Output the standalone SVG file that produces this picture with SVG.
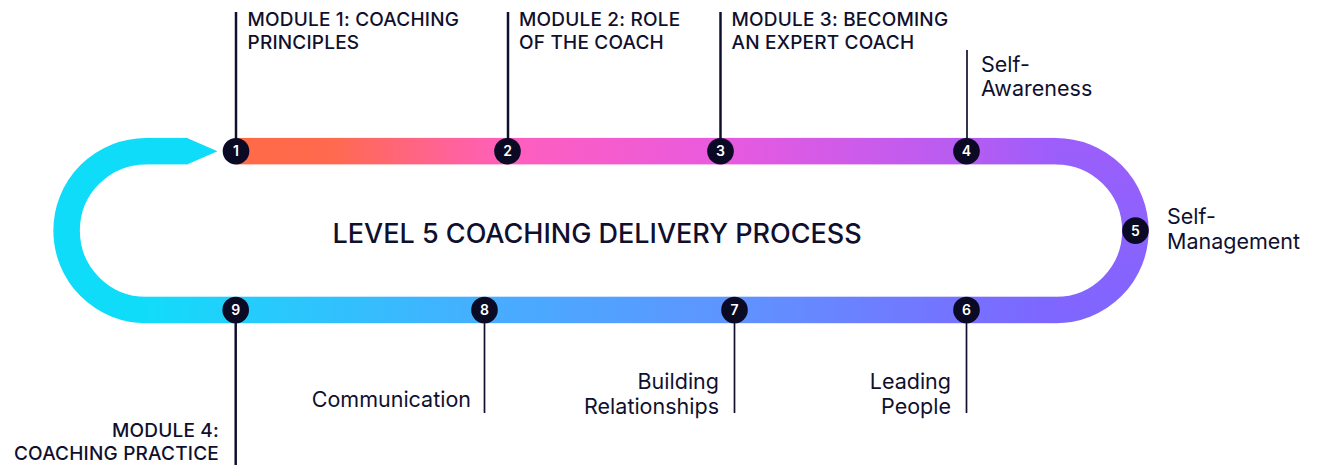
<svg xmlns="http://www.w3.org/2000/svg" width="1317" height="465" viewBox="0 0 1317 465">
<defs>
<style>
.mod{font-family:Inter,"Liberation Sans",sans-serif;font-weight:500;font-size:19px;letter-spacing:0.2px;fill:#10102e}
.skill{font-family:Inter,"Liberation Sans",sans-serif;font-weight:400;font-size:21.5px;fill:#10102e}
.title{font-family:Inter,"Liberation Sans",sans-serif;font-weight:500;font-size:27px;fill:#10102e}
.num{font-family:Inter,"Liberation Sans",sans-serif;font-weight:600;font-size:14px;fill:#ffffff;text-anchor:middle}
.dot{fill:#0a0a24}
.ml{stroke:#10102e;stroke-width:2.5;fill:none}
.sl{stroke:#10102e;stroke-width:1.7;fill:none}
.end{text-anchor:end}
</style>
<linearGradient id="gTop" gradientUnits="userSpaceOnUse" x1="236" y1="0" x2="1056" y2="0">
<stop offset="0" stop-color="#ff6a47"/>
<stop offset="0.12" stop-color="#ff6a50"/>
<stop offset="0.33" stop-color="#ff5fbd"/>
<stop offset="0.59" stop-color="#e95adf"/>
<stop offset="0.89" stop-color="#b65cf2"/>
<stop offset="1" stop-color="#9c5efb"/>
</linearGradient>
<linearGradient id="gRight" gradientUnits="userSpaceOnUse" x1="0" y1="138" x2="0" y2="323">
<stop offset="0" stop-color="#9c5efb"/>
<stop offset="1" stop-color="#7e66ff"/>
</linearGradient>
<linearGradient id="gBot" gradientUnits="userSpaceOnUse" x1="146" y1="0" x2="1056" y2="0">
<stop offset="0" stop-color="#12dcf9"/>
<stop offset="0.1" stop-color="#22cefc"/>
<stop offset="0.37" stop-color="#46aeff"/>
<stop offset="0.65" stop-color="#5f93ff"/>
<stop offset="0.9" stop-color="#7671ff"/>
<stop offset="1" stop-color="#7e66ff"/>
</linearGradient>
</defs>

<g id="track">
<path d="M146,151.2 A79.4,79.4 0 0 0 146,310" stroke="#0edcf9" stroke-width="26.5" fill="none"/>
<rect x="146" y="137.9" width="41.5" height="26.5" fill="#0edcf9"/>
<polygon points="187,137.9 217.5,151.2 187,164.4" fill="#0edcf9"/>
<rect x="236" y="137.9" width="820" height="26.5" fill="url(#gTop)"/>
<path d="M1056,151.2 A79.4,79.4 0 0 1 1056,310" stroke="url(#gRight)" stroke-width="26.5" fill="none"/>
<rect x="146" y="296.7" width="910" height="26.5" fill="url(#gBot)"/>
</g>

<g id="connectors">
<line class="ml" x1="236" y1="12" x2="236" y2="151"/>
<line class="ml" x1="508" y1="12" x2="508" y2="151"/>
<line class="ml" x1="720.5" y1="12" x2="720.5" y2="151"/>
<line class="sl" x1="967" y1="50" x2="967" y2="151"/>
<line class="sl" x1="966.5" y1="310" x2="966.5" y2="413"/>
<line class="sl" x1="734.5" y1="310" x2="734.5" y2="413"/>
<line class="sl" x1="484.5" y1="310" x2="484.5" y2="413"/>
<line class="ml" x1="235.7" y1="310" x2="235.7" y2="465"/>
</g>

<text id="title" class="title" x="332.5" y="242.5">LEVEL 5 COACHING DELIVERY PROCESS</text>

<g id="n1"><circle class="dot" cx="236" cy="151.2" r="13.3"/><text class="num" x="236" y="156.2">1</text>
<text class="mod" x="247.5" y="26">MODULE 1: COACHING</text><text class="mod" x="247.5" y="48.5">PRINCIPLES</text></g>
<g id="n2"><circle class="dot" cx="507.5" cy="151.2" r="13.3"/><text class="num" x="507.5" y="156.2">2</text>
<text class="mod" x="519" y="26">MODULE 2: ROLE</text><text class="mod" x="519" y="48.5">OF THE COACH</text></g>
<g id="n3"><circle class="dot" cx="720.5" cy="151.2" r="13.3"/><text class="num" x="720.5" y="156.2">3</text>
<text class="mod" x="731.5" y="26">MODULE 3: BECOMING</text><text class="mod" x="731.5" y="48.5">AN EXPERT COACH</text></g>
<g id="n4"><circle class="dot" cx="966.5" cy="151.2" r="13.3"/><text class="num" x="966.5" y="156.2">4</text>
<text class="skill" x="981" y="72.3">Self-</text><text class="skill" x="981" y="96">Awareness</text></g>
<g id="n5"><circle class="dot" cx="1135.5" cy="230.6" r="13.3"/><text class="num" x="1135.5" y="235.6">5</text>
<text class="skill" x="1167" y="224.3">Self-</text><text class="skill" x="1167" y="249.3">Management</text></g>
<g id="n6"><circle class="dot" cx="966.5" cy="310" r="13.3"/><text class="num" x="966.5" y="315">6</text>
<text class="skill end" x="951" y="389">Leading</text><text class="skill end" x="951" y="414">People</text></g>
<g id="n7"><circle class="dot" cx="734.5" cy="310" r="13.3"/><text class="num" x="734.5" y="315">7</text>
<text class="skill end" x="719" y="389">Building</text><text class="skill end" x="719" y="414">Relationships</text></g>
<g id="n8"><circle class="dot" cx="484.5" cy="310" r="13.3"/><text class="num" x="484.5" y="315">8</text>
<text class="skill end" x="471" y="406.7">Communication</text></g>
<g id="n9"><circle class="dot" cx="235.7" cy="310" r="13.3"/><text class="num" x="235.7" y="315">9</text>
<text class="mod end" x="219" y="437">MODULE 4:</text><text class="mod end" x="219" y="459.5">COACHING PRACTICE</text></g>
</svg>
